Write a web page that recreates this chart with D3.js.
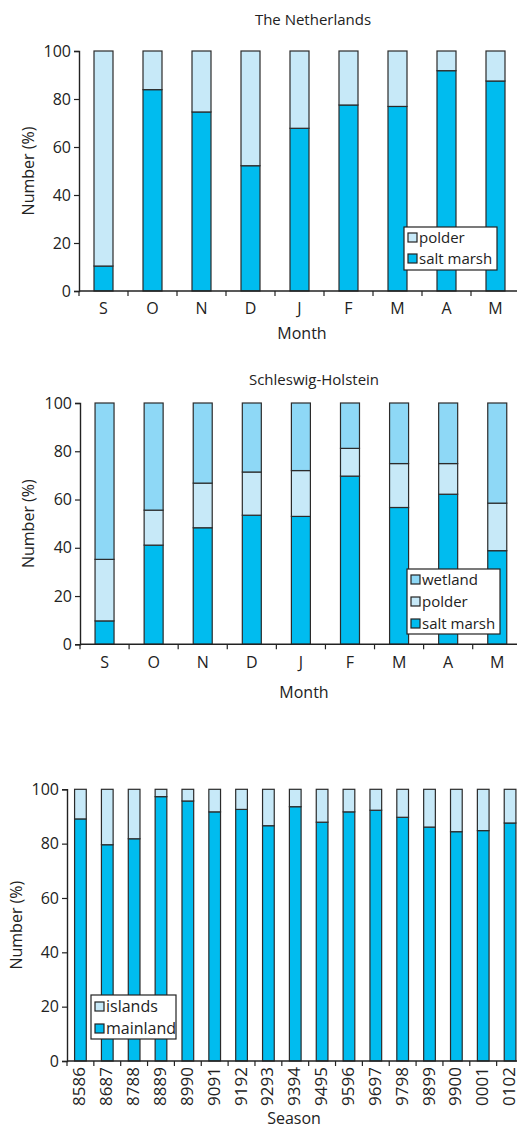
<!DOCTYPE html>
<html>
<head>
<meta charset="utf-8">
<script src="https://cdn.jsdelivr.net/npm/d3@7/dist/d3.min.js"></script>
<style>
  html, body { margin: 0; padding: 0; background: #fff; }
  svg { display: block; }
  text { font-family: "Open Sans", "Noto Sans", sans-serif; fill: #222; }
</style>
</head>
<body>
<svg id="chart" width="517" height="1129"></svg>
<script>
// Monthly distribution, The Netherlands (% of birds)
const months = ["S", "O", "N", "D", "J", "F", "M", "A", "M"];
const nlSaltMarsh = [10.4, 83.9, 74.6, 52.2, 67.8, 77.5, 76.9, 91.8, 87.5];
const nlPolder    = [89.6, 16.1, 25.4, 47.8, 32.2, 22.5, 23.1, 8.2, 12.5];

// Monthly distribution, Schleswig-Holstein (% of birds)
const shSaltMarsh = [9.7, 41.1, 48.3, 53.5, 53.0, 69.7, 56.7, 62.2, 38.8];
const shPolder    = [25.5, 14.5, 18.5, 17.9, 19.0, 11.5, 18.2, 12.7, 19.7];
const shWetland   = [64.8, 44.4, 33.2, 28.6, 28.0, 18.8, 25.1, 25.1, 41.5];

// Seasonal split between mainland and islands (% of birds)
const seasons  = ["8586", "8687", "8788", "8889", "8990", "9091", "9192", "9293", "9394",
                  "9495", "9596", "9697", "9798", "9899", "9900", "0001", "0102"];
const mainland = [89.1, 79.6, 81.8, 97.3, 95.7, 91.7, 92.6, 86.6, 93.6,
                  87.9, 91.7, 92.3, 89.7, 86.1, 84.4, 84.8, 87.6];
const islands  = [10.9, 20.4, 18.2, 2.7, 4.3, 8.3, 7.4, 13.4, 6.4,
                  12.1, 8.3, 7.7, 10.3, 13.9, 15.6, 15.2, 12.4];

const yTicks = [0, 20, 40, 60, 80, 100];

const colors = {
  "salt marsh": "#00bcef",
  "polder": "#c7e9f8",
  "wetland": "#8ed8f6",
  "mainland": "#00bcef",
  "islands": "#c7e9f8"
};

const svg = d3.select("#chart");

function stackedPanel(opts) {
  const { cats, series, x0, x1, yTop, yBottom, barW, title, titleY, xTitle, xTitleY,
          yTitleX, rotateLabels, labelY, labelSize, legend } = opts;

  const x = d3.scaleBand().domain(d3.range(cats.length)).range([x0, x1]).padding(0);
  const y = d3.scaleLinear().domain([0, 100]).range([yBottom, yTop]);

  const g = svg.append("g");

  // Stack the series (bottom series first)
  const rows = cats.map((c, i) => {
    const r = { i };
    series.forEach(s => r[s.name] = s.values[i]);
    return r;
  });
  const stack = d3.stack().keys(series.map(s => s.name))(rows);

  stack.forEach(layer => {
    g.append("g").selectAll("rect").data(layer).join("rect")
      .attr("x", d => x(d.data.i) + x.bandwidth() / 2 - barW / 2)
      .attr("width", barW)
      .attr("y", d => y(d[1]))
      .attr("height", d => y(d[0]) - y(d[1]))
      .attr("fill", colors[layer.key])
      .attr("stroke", "#2b2b2b")
      .attr("stroke-width", 1.2);
  });

  // Y axis
  const yAxis = d3.axisLeft(y).tickValues(yTicks).tickSize(5).tickPadding(3);
  const ya = g.append("g").attr("transform", `translate(${x0},0)`).call(yAxis);
  ya.select(".domain").attr("stroke", "#222").attr("stroke-width", 1.4);
  ya.selectAll(".tick line").attr("stroke", "#222").attr("stroke-width", 1.2);
  ya.selectAll(".tick text").style("font-size", "16px").attr("fill", "#222");

  // X axis: ticks at band boundaries
  const xa = g.append("g").attr("transform", `translate(0,${yBottom})`);
  xa.append("line").attr("x1", x0).attr("x2", Math.min(x1, 517)).attr("stroke", "#222").attr("stroke-width", 1.4);
  xa.selectAll("line.tk").data(d3.range(cats.length)).join("line").attr("class", "tk")
    .attr("x1", i => x(i)).attr("x2", i => x(i)).attr("y1", 0).attr("y2", 5)
    .attr("stroke", "#222").attr("stroke-width", 1.2);

  // Category labels (absolute page coordinates)
  const lab = g.append("g");
  if (rotateLabels) {
    lab.selectAll("text").data(cats).join("text")
      .attr("transform", (d, i) => `translate(${x(i) + x.bandwidth() / 2 + 5},${labelY}) rotate(-90)`)
      .attr("text-anchor", "end")
      .style("font-size", labelSize + "px")
      .text(d => d);
  } else {
    lab.selectAll("text").data(cats).join("text")
      .attr("x", (d, i) => x(i) + x.bandwidth() / 2)
      .attr("y", labelY)
      .attr("text-anchor", "middle")
      .style("font-size", labelSize + "px")
      .text(d => d);
  }

  // Titles
  if (title) {
    g.append("text").attr("x", opts.titleX).attr("y", titleY).attr("text-anchor", "middle")
      .style("font-size", "15px").text(title);
  }
  g.append("text").attr("x", opts.xTitleX).attr("y", xTitleY).attr("text-anchor", "middle")
    .style("font-size", "16px").text(xTitle);
  g.append("text")
    .attr("transform", `translate(${yTitleX},${(yTop + yBottom) / 2}) rotate(-90)`)
    .attr("text-anchor", "middle").style("font-size", "16px").text("Number (%)");

  // Legend
  const lg = g.append("g").attr("transform", `translate(${legend.x},${legend.y})`);
  lg.append("rect").attr("width", legend.w).attr("height", legend.h)
    .attr("fill", "#fff").attr("stroke", "#222").attr("stroke-width", 1.2);
  legend.items.forEach((name, k) => {
    const cy = legend.firstY + k * legend.step;
    lg.append("rect").attr("x", 4).attr("y", cy - 5).attr("width", 9).attr("height", 9)
      .attr("fill", colors[name]).attr("stroke", "#222").attr("stroke-width", 1.2);
    lg.append("text").attr("x", 15).attr("y", cy + 5).style("font-size", legend.size + "px").text(name);
  });
}

stackedPanel({
  cats: months,
  series: [{ name: "salt marsh", values: nlSaltMarsh }, { name: "polder", values: nlPolder }],
  x0: 79, x1: 520, yTop: 51, yBottom: 291, barW: 19,
  title: "The Netherlands", titleX: 313, titleY: 25,
  xTitle: "Month", xTitleX: 302, xTitleY: 339, yTitleX: 34,
  rotateLabels: false, labelY: 314, labelSize: 16,
  legend: { x: 404, y: 227, w: 93, h: 43, firstY: 11, step: 21, size: 15, items: ["polder", "salt marsh"] }
});

stackedPanel({
  cats: months,
  series: [{ name: "salt marsh", values: shSaltMarsh }, { name: "polder", values: shPolder },
           { name: "wetland", values: shWetland }],
  x0: 80, x1: 521.8, yTop: 403, yBottom: 644.3, barW: 19,
  title: "Schleswig-Holstein", titleX: 314, titleY: 385,
  xTitle: "Month", xTitleX: 304, xTitleY: 698, yTitleX: 34,
  rotateLabels: false, labelY: 668, labelSize: 16,
  legend: { x: 407, y: 569, w: 93, h: 65, firstY: 11, step: 22, size: 15, items: ["wetland", "polder", "salt marsh"] }
});

stackedPanel({
  cats: seasons,
  series: [{ name: "mainland", values: mainland }, { name: "islands", values: islands }],
  x0: 67, x1: 523.5, yTop: 789.3, yBottom: 1061, barW: 11.7,
  title: null,
  xTitle: "Season", xTitleX: 294, xTitleY: 1124, yTitleX: 22,
  rotateLabels: true, labelY: 1067, labelSize: 17,
  legend: { x: 91, y: 995, w: 85, h: 44, firstY: 12, step: 22, size: 16, items: ["islands", "mainland"] }
});
</script>
</body>
</html>
